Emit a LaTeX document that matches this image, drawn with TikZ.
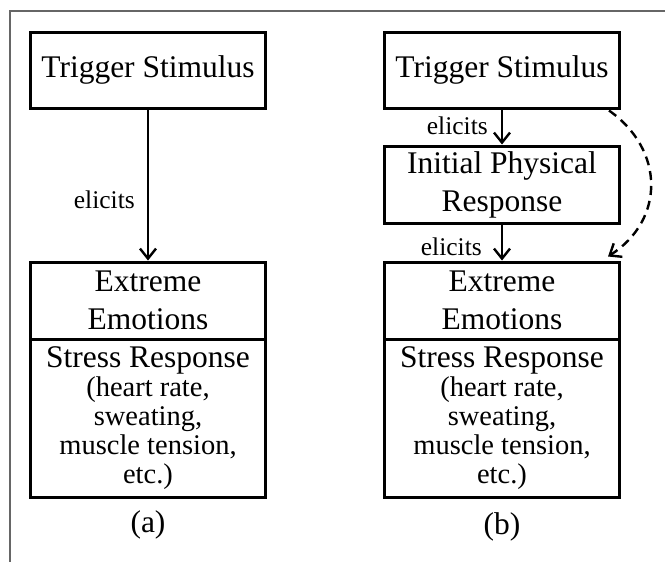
\documentclass[tikz,border=0pt]{standalone}
\usepackage{fontspec}
\setmainfont{Liberation Serif}
\usepackage{tikz}
\usetikzlibrary{arrows.meta, positioning}
\newcommand{\smalltxt}{\fontsize{28.5}{29}\selectfont}

\begin{document}
\begin{tikzpicture}[
                      x=1pt, y=-1pt,
                      >={Straight Barb[length=10pt, width=16pt, line width=2.4pt]},
                  ]
                  \tikzset{
                      box/.style = {draw, line width=3pt, minimum width=235pt, inner sep=0pt,
                                    align=center, font=\fontsize{31.5}{38}\selectfont},
                      stressbox/.style = {box, font=\fontsize{31.5}{29}\selectfont},
                      link/.style = {->, line width=2.4pt},
                      elicit/.style = {anchor=base east, inner sep=0pt, font=\fontsize{25.5}{30}\selectfont},
                  }
                  \useasboundingbox (0,0) rectangle (665,562);

                  % Frame
                  \draw[gray!80!black, line width=1.2pt] (665,11) -- (10,11) -- (10,562);

                  % Panel (a)
                  \node[box, minimum height=76pt] (trigA) at (148,70) {Trigger Stimulus};
                  \node[box, minimum height=77pt] (emoA) at (148,300.5) {Extreme\\Emotions};
                  \node[stressbox, minimum height=158pt] (strA) at (148,418)
                      {Stress Response\\\smalltxt (heart rate,\\\smalltxt sweating,\\\smalltxt muscle tension,\\\smalltxt etc.)};
                  \draw[link] (trigA) -- (emoA);
                  \node[elicit] (elA) at (135,208) {elicits};
                  \node[font=\fontsize{31.5}{38}\selectfont] (capA) at (148,525) {(a)};

                  % Panel (b)
                  \node[box, minimum height=76pt] (trigB) at (502,70) {Trigger Stimulus};
                  \node[box, minimum height=77pt] (initB) at (502,184.5) {Initial Physical\\Response};
                  \node[box, minimum height=77pt] (emoB) at (502,300.5) {Extreme\\Emotions};
                  \node[stressbox, minimum height=158pt] (strB) at (502,418)
                      {Stress Response\\\smalltxt (heart rate,\\\smalltxt sweating,\\\smalltxt muscle tension,\\\smalltxt etc.)};
                  \draw[link] (trigB) -- (initB);
                  \draw[link] (initB) -- (emoB);
                  \node[elicit] (elB1) at (488,134) {elicits};
                  \node[elicit] (elB2) at (482,255) {elicits};

                  % Shortcut
                  \draw[link, dash pattern=on 9pt off 6pt]
                      ([xshift=-12pt, yshift=-1pt]trigB.south east)
                      .. controls (665,150) and (665,220) ..
                      ([xshift=-13pt, yshift=4pt]emoB.north east);

                  \node[font=\fontsize{31.5}{38}\selectfont] (capB) at (502,527) {(b)};

              \end{tikzpicture}
\end{document}
